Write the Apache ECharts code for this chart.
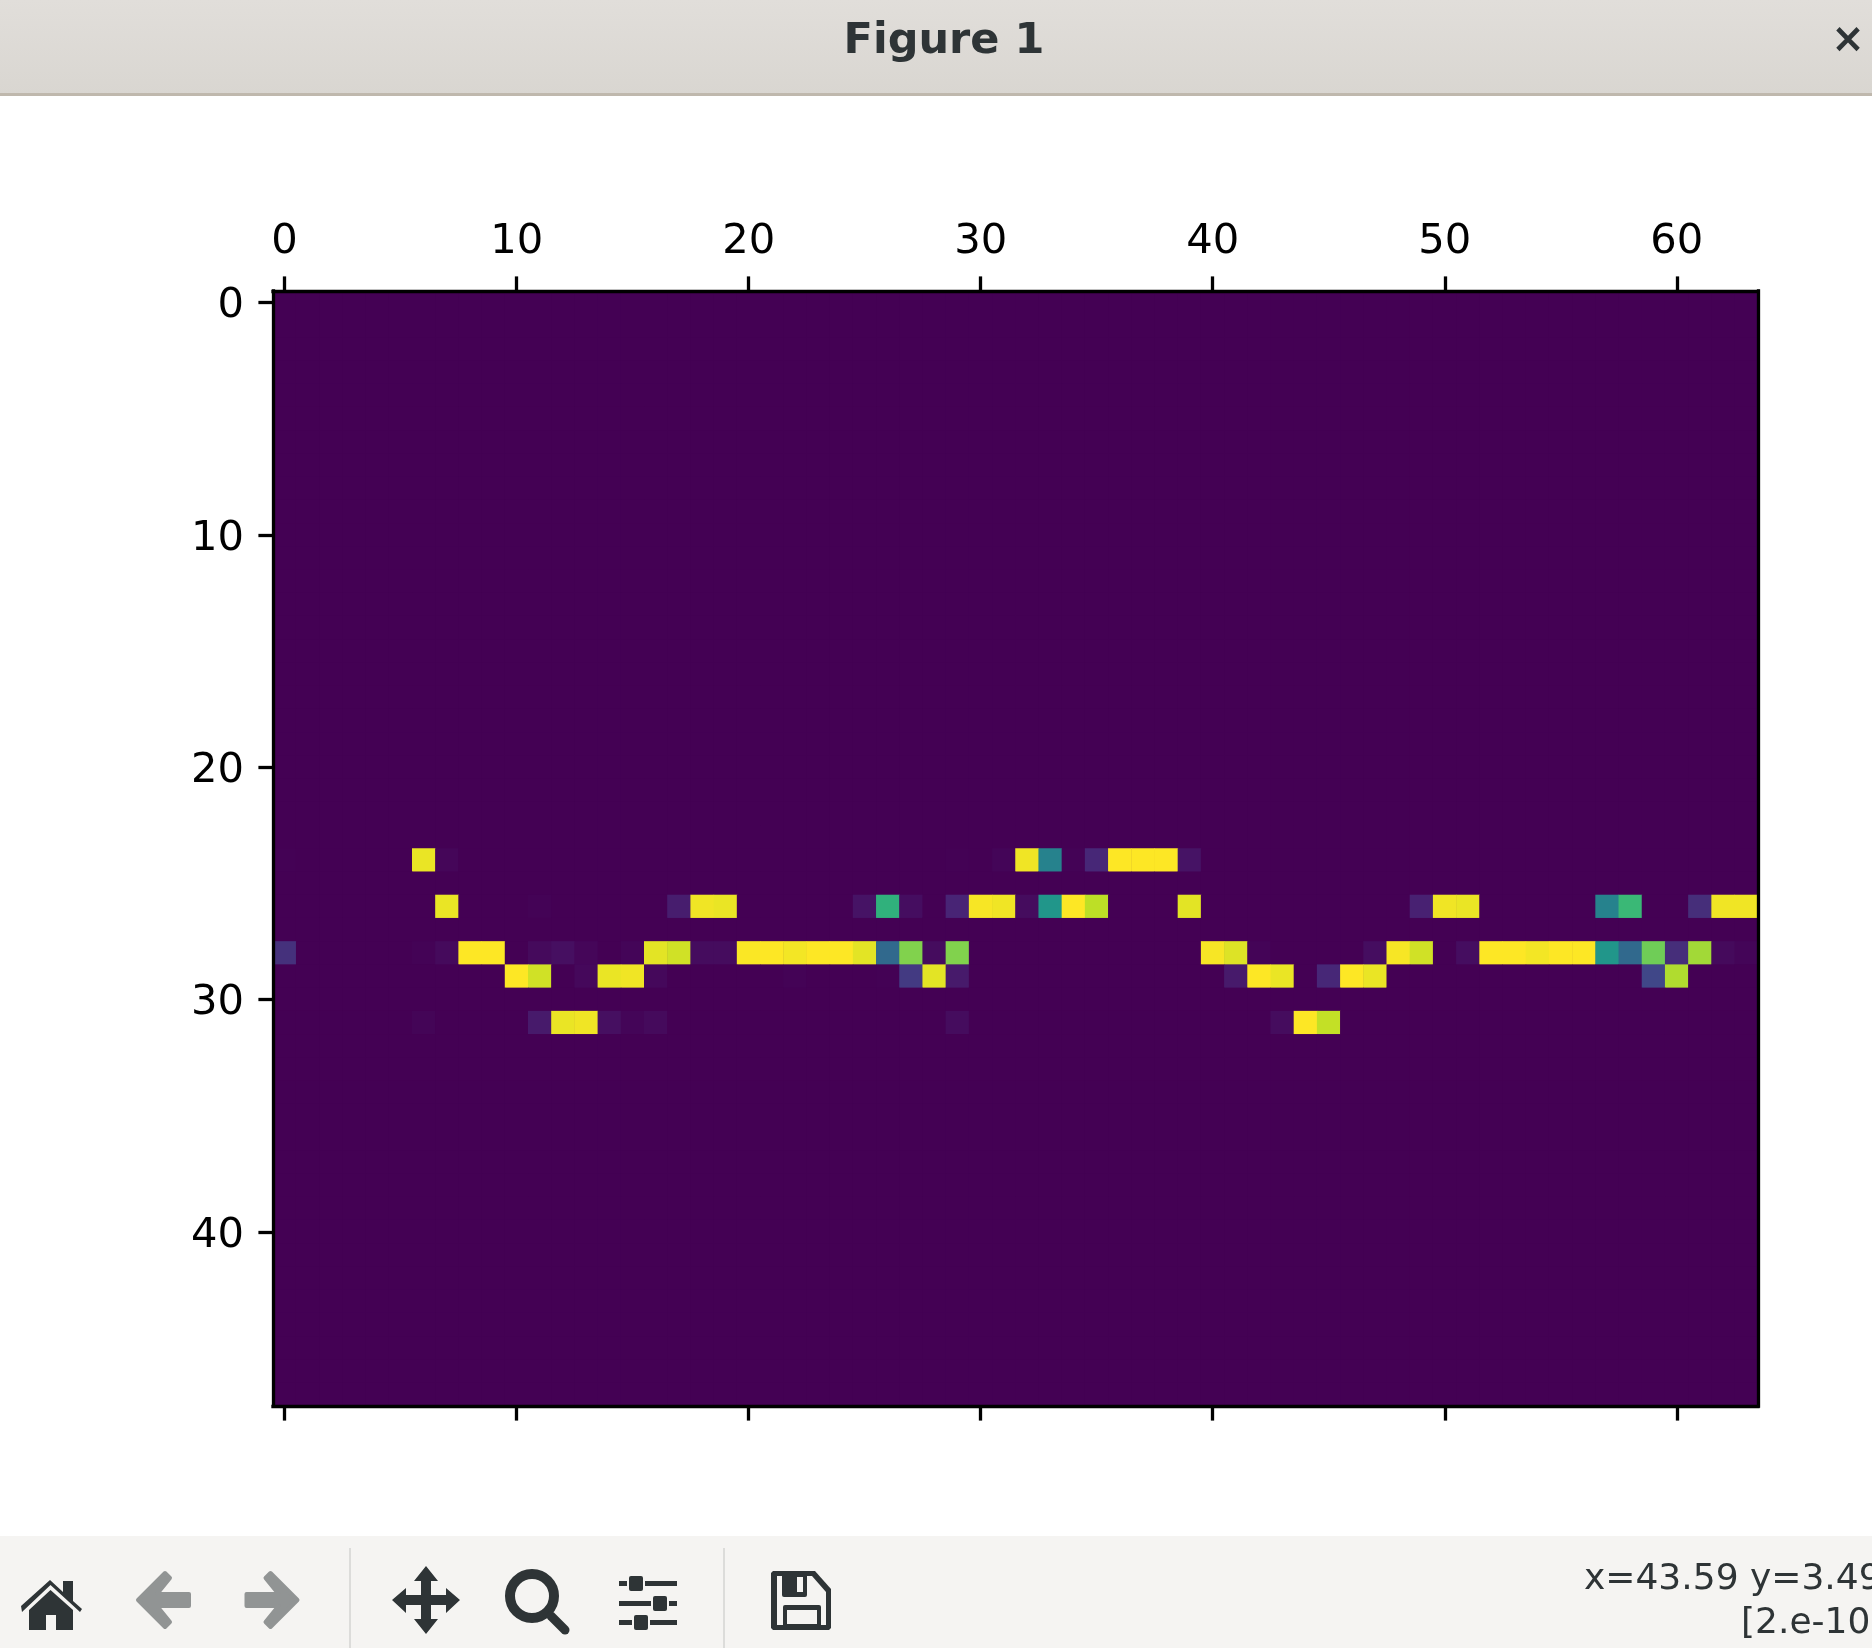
<!DOCTYPE html>
<html><head><meta charset="utf-8">
<style>html,body{margin:0;padding:0;background:#fff;overflow:hidden}#c{width:1872px;height:1648px}</style>
<script src="https://cdn.jsdelivr.net/npm/echarts@6/dist/echarts.min.js"></script>
</head><body><div id="c"></div>
<script>
const columnCount = 64;
const rowCount = 48;
const row24 = [.003,0,0,0,0,0,.97,.015,0,0, 0,0,0,0,0,0,0,0,0,0, 0,0,0,0,0,0,0,0,0,.002, 0,.012,.98,.44,.005,.11,1,1,1,.05, 0,0,0,0,0,0,0,0,0,0, 0,0,0,0,0,0,0,0,0,0, 0,0,0,0];
const row26 = [0,0,0,0,0,0,0,.97,0,0, 0,.005,0,0,0,0,0,.08,.98,.97, 0,0,0,0,0,.05,.64,.035,0,.1, .99,.98,.03,.52,1,.9,0,0,0,.96, 0,0,0,0,0,0,0,0,0,.09, .98,.97,0,0,0,0,0,.44,.67,0, 0,.13,.98,.98];
const row28 = [.14,0,0,0,0,0,.005,.025,1,1, 0,.025,.04,.015,0,.012,.96,.93,.03,.03, .995,1,.985,1,1,.96,.34,.81,.03,.81, 0,0,0,0,0,0,0,0,0,0, .99,.95,.008,0,0,0,0,.035,.99,.93, 0,.035,1,1,.985,1,1,.52,.34,.78, .13,.86,.025,.012];
const row29 = [0,0,0,0,0,0,0,0,0,0, 1,.93,0,.02,.97,.98,.02,0,0,0, 0,0,.005,0,0,0,.003,.17,.96,.07, 0,0,0,0,0,0,0,0,0,0, 0,.07,1,.97,0,.11,1,.97,0,0, 0,0,0,0,0,0,0,0,0,.21, .88,0,0,0];
const row31 = [0,0,0,0,0,0,.01,0,0,0, 0,.07,.97,.98,.04,.012,.025,0,0,0, 0,0,0,0,0,0,0,0,0,.03, 0,0,0,0,0,0,0,0,0,0, 0,0,0,.03,1,.91,0,0,0,0, 0,0,0,0,0,0,0,0,0,0, 0,0,0,0];
const filledRows = {24: row24, 26: row26, 28: row28, 29: row29, 31: row31};
const viridis = ['#440154','#482475','#414487','#355f8d','#2a788e','#21918c','#22a884','#44bf70','#7ad151','#bddf26','#fde725'];
const xLabels = Array.from({length: columnCount}, (_, i) => String(i));
const yLabels = Array.from({length: rowCount}, (_, i) => String(i));
const titleText = 'Figure 1';
const statusLine1 = 'x=43.59 y=3.49';
const statusLine2 = '[2.e-10';

const cells = [];
for (let r = 0; r < rowCount; r++) {
  const values = filledRows[r];
  for (let c = 0; c < columnCount; c++) cells.push([c, r, values ? values[c] : 0]);
}

const DARK = '#2e3436', GREY = '#919494', BAR = '#f5f4f2', SEP = '#dcdcda';
const pts = s => s.trim().split(/\s+/).map(p => p.split(',').map(Number));
const P = (s, fill) => ({type:'polygon', shape:{points:pts(s)}, style:{fill}});
const R = (x,y,w,h,fill,r) => ({type:'rect', shape:{x,y,width:w,height:h,r:r||0}, style:{fill}});
const T = (x,y,text,font,fill,align) => ({type:'text', x, y, style:{text, font, fill, textAlign:align||'left', textVerticalAlign:'middle'}});
const arrowStyle = {fill:GREY, stroke:GREY, lineWidth:4, lineJoin:'round'};

const chrome = [
  {type:'rect', shape:{x:0,y:0,width:1872,height:93}, style:{fill:{type:'linear',x:0,y:0,x2:0,y2:1,colorStops:[{offset:0,color:'#e1deda'},{offset:1,color:'#d9d6d1'}]}}},
  R(0,93,1872,3,'#bfb8ad'),
  T(944,42,titleText,'bold 43px "DejaVu Sans"',DARK,'center'),
  T(1848,42,'×','bold 40px "DejaVu Sans"',DARK,'center'),
  R(0,1536,1872,112,BAR),
  R(349,1548,2,100,SEP),
  R(723,1548,2,100,SEP),
  // home
  P('21,1606 50,1580 63,1592 63,1581 73,1581 73,1601 82,1609 80,1612 50.5,1585 22,1612',DARK),
  P('29,1610 50.5,1590 73,1610 73,1630 56,1630 56,1615 46,1615 46,1630 29,1630',DARK),
  // back / forward
  {type:'polygon', shape:{points:pts('138,1600 165,1573 170,1578 157,1594 189,1594 189,1606 157,1606 170,1622 165,1627')}, style:arrowStyle},
  {type:'polygon', shape:{points:pts('297.5,1600 270.5,1573 265.5,1578 278.5,1594 246.5,1594 246.5,1606 278.5,1606 265.5,1622 270.5,1627')}, style:arrowStyle},
  // move
  P('426,1566 438,1581 431,1581 431,1595 446,1595 446,1588 460,1600 446,1613 446,1605 431,1605 431,1619 438,1619 426,1634 414,1619 421,1619 421,1605 406,1605 406,1613 392,1600 406,1588 406,1595 421,1595 421,1581 414,1581',DARK),
  // zoom
  {type:'circle', shape:{cx:532,cy:1596,r:22}, style:{fill:null,stroke:DARK,lineWidth:10}},
  {type:'line', shape:{x1:551,y1:1616,x2:565,y2:1630}, style:{stroke:DARK,lineWidth:9,lineCap:'round'}},
  // sliders
  R(619,1581,8,5,DARK), R(645,1581,32,5,DARK), R(629,1576,14,15,DARK,2),
  R(619,1601,32,5,DARK), R(669,1601,8,5,DARK), R(653,1596,14,15,DARK,2),
  R(619,1620,13,5,DARK), R(650,1620,27,5,DARK), R(634,1615,14,15,DARK,2),
  // save
  P('773,1571 815,1571 831,1589 831,1628 829,1630 773,1630 771,1628 771,1573',DARK),
  P('777,1576 812,1576 826,1592 826,1625 777,1625',BAR),
  R(782,1573,25,24,DARK,2),
  R(797,1577,6,15,BAR),
  R(783,1605,38,22,DARK,2),
  R(787,1610,30,14,BAR),
  T(1584,1580,statusLine1,'36px "DejaVu Sans"',DARK),
  T(1741,1624,statusLine2,'36px "DejaVu Sans"',DARK)
];

const lineStyle = {color:'#000', width:3.3, cap:'square'};
const labelStyle = {color:'#000', fontFamily:'"DejaVu Sans"', fontSize:41.67, interval:9};
const tickStyle = {show:true, alignWithLabel:true, interval:9, length:14.6, lineStyle:{color:'#000', width:3.3}};

const chart = echarts.init(document.getElementById('c'), null, {renderer:'canvas'});
chart.setOption({
  animation:false,
  backgroundColor:'#fff',
  graphic:{elements:chrome},
  grid:{left:273, top:291, width:1485, height:1115, show:true, backgroundColor:'#440154', borderWidth:0},
  xAxis:[
    {type:'category', position:'top', data:xLabels, z:5, boundaryGap:true, axisLine:{show:true,onZero:false,lineStyle}, axisTick:tickStyle, axisLabel:Object.assign({margin:28,show:true},labelStyle), splitLine:{show:false}},
    {type:'category', position:'bottom', data:xLabels, z:5, boundaryGap:true, axisLine:{show:true,onZero:false,lineStyle}, axisTick:tickStyle, axisLabel:{show:false}, splitLine:{show:false}}
  ],
  yAxis:[
    {type:'category', position:'left', inverse:true, data:yLabels, z:5, boundaryGap:true, axisLine:{show:true,onZero:false,lineStyle}, axisTick:tickStyle, axisLabel:Object.assign({margin:29,show:true,verticalAlign:'top',lineHeight:8},labelStyle), splitLine:{show:false}},
    {type:'category', position:'right', inverse:true, data:yLabels, z:5, boundaryGap:true, axisLine:{show:true,onZero:false,lineStyle}, axisTick:{show:false}, axisLabel:{show:false}, splitLine:{show:false}}
  ],
  visualMap:{show:false, type:'continuous', min:0, max:1, seriesIndex:0, dimension:2, inRange:{color:viridis}},
  series:[{type:'heatmap', xAxisIndex:0, yAxisIndex:0, data:cells, progressive:0, emphasis:{disabled:true}, itemStyle:{borderWidth:0}}]
});
</script></body></html>
